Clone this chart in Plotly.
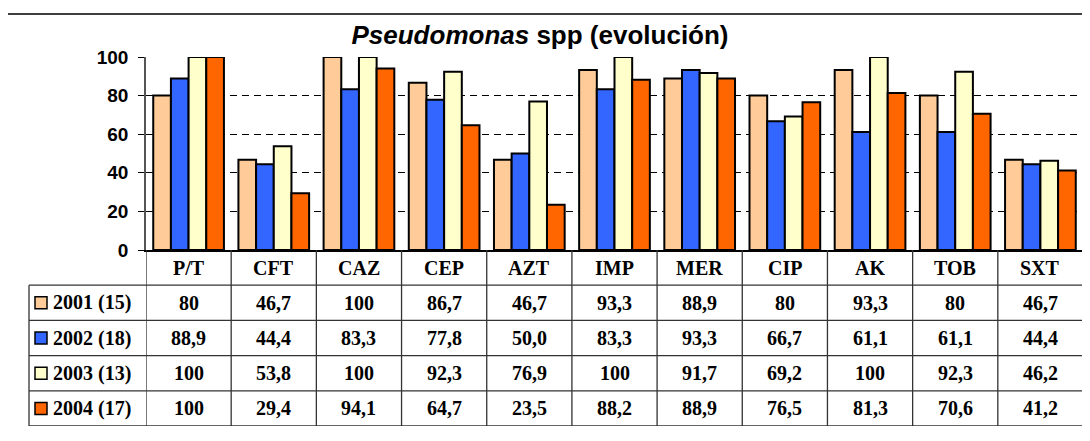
import plotly.graph_objects as go

# antibiotics (columns of the table)
categories = ["P/T", "CFT", "CAZ", "CEP", "AZT", "IMP", "MER", "CIP", "AK", "TOB", "SXT"]

# series as shown in the data table (comma decimals)
series_names = ["2001 (15)", "2002 (18)", "2003 (13)", "2004 (17)"]
v2001 = ["80", "46,7", "100", "86,7", "46,7", "93,3", "88,9", "80", "93,3", "80", "46,7"]
v2002 = ["88,9", "44,4", "83,3", "77,8", "50,0", "83,3", "93,3", "66,7", "61,1", "61,1", "44,4"]
v2003 = ["100", "53,8", "100", "92,3", "76,9", "100", "91,7", "69,2", "100", "92,3", "46,2"]
v2004 = ["100", "29,4", "94,1", "64,7", "23,5", "88,2", "88,9", "76,5", "81,3", "70,6", "41,2"]
series_values = [v2001, v2002, v2003, v2004]
colors = ["#FFCC99", "#3366FF", "#FFFFCC", "#FF6600"]

y_ticks = [0, 20, 40, 60, 80, 100]

# pixel layout (page coords); the html body adds an 8px margin
OFF = 8
W, H = 1090, 441
PL, PR, PT, PB = 146, 1083, 57, 426     # plot area (bars + table)
BASE = 250                              # y pixel of value 0
PW, PH = PR - PL, PB - PT
bar_dom = (PB - BASE) / PH

def num(s):
    return float(s.replace(",", "."))

def px_x(p):
    return (p - PL) / PW

def px_y(p):
    return (PB - p) / PH

fig = go.Figure()
for name, vals, col in zip(series_names, series_values, colors):
    fig.add_trace(go.Bar(
        x=categories, y=[num(v) for v in vals], name=name,
        marker=dict(color=col, line=dict(color="black", width=2)),
        showlegend=False, hoverinfo="skip",
    ))
# empty trace so the table axis exists
fig.add_trace(go.Scatter(x=[], y=[], xaxis="x", yaxis="y2", showlegend=False))

TIMES = "Times New Roman, Liberation Serif, serif"
ARIAL = "Arial, Liberation Sans, sans-serif"
nrows = len(series_names) + 1

shapes = []
annotations = []
line = dict(color="#333333", width=1.3)

# table vertical lines
for i in range(len(categories) + 1):
    shapes.append(dict(type="line", xref="x", yref="y2", x0=i - 0.5, x1=i - 0.5,
                       y0=0, y1=nrows, line=line))
# legend column left edge
shapes.append(dict(type="line", xref="paper", yref="y2", x0=px_x(29), x1=px_x(29),
                   y0=1, y1=nrows, line=line))
# horizontal lines
for r in range(1, nrows + 1):
    shapes.append(dict(type="line", xref="paper", yref="y2", x0=px_x(29), x1=1,
                       y0=r, y1=r, line=line))

# header
for c in categories:
    annotations.append(dict(x=c, y=0.5, xref="x", yref="y2", text="<b>%s</b>" % c,
                            showarrow=False, font=dict(family=TIMES, size=20, color="black")))
# rows
for r, (name, vals, col) in enumerate(zip(series_names, series_values, colors)):
    yc = r + 1.5
    for c, v in zip(categories, vals):
        annotations.append(dict(x=c, y=yc, xref="x", yref="y2", text="<b>%s</b>" % v,
                                showarrow=False, font=dict(family=TIMES, size=20, color="black")))
    annotations.append(dict(x=px_x(51), y=yc, xref="paper", yref="y2", xanchor="left",
                            text="<b>%s</b>" % name, showarrow=False,
                            font=dict(family=TIMES, size=20, color="black")))
    shapes.append(dict(type="rect", xref="paper", yref="y2", x0=px_x(35), x1=px_x(47),
                       y0=yc - 0.17, y1=yc + 0.17, fillcolor=col,
                       line=dict(color="black", width=1.5)))

# outer chart frame
shapes.append(dict(type="rect", xref="paper", yref="paper", x0=px_x(7), x1=1.05,
                   y0=-0.3, y1=px_y(14), line=dict(color="black", width=1.5),
                   fillcolor="rgba(0,0,0,0)"))

fig.update_layout(
    width=W, height=H,
    margin=dict(l=PL - OFF, r=W - PR + OFF, t=PT - OFF, b=H - PB + OFF),
    paper_bgcolor="white", plot_bgcolor="white",
    barmode="group", bargap=0.17, bargroupgap=0,
    title=dict(text="<b><i>Pseudomonas</i> spp (evolución)</b>", x=(540 - OFF) / W,
               xanchor="center", y=1 - (35 - OFF) / H, yanchor="middle", yref="container",
               font=dict(family=ARIAL, size=26, color="black")),
    xaxis=dict(range=[-0.5, len(categories) - 0.5], showticklabels=False, ticks="",
               showline=True, linecolor="black", linewidth=1.5, showgrid=False,
               anchor="y", fixedrange=True),
    yaxis=dict(domain=[bar_dom, 1], range=[0, 100], tickvals=y_ticks,
               ticks="outside", ticklen=6, tickcolor="black", tickwidth=1,
               ticklabelstandoff=6,
               showline=True, linecolor="#555555", linewidth=1.5,
               showgrid=True, gridcolor="black", gridwidth=1, griddash="7px,5px",
               zeroline=False,
               tickfont=dict(family=ARIAL, size=19, color="black", weight="bold"),
               fixedrange=True),
    yaxis2=dict(domain=[0, bar_dom], range=[nrows, 0], visible=False, anchor="x",
                fixedrange=True),
    shapes=shapes, annotations=annotations,
    hovermode=False,
)

fig.write_html("out.html", config=dict(displayModeBar=False))
